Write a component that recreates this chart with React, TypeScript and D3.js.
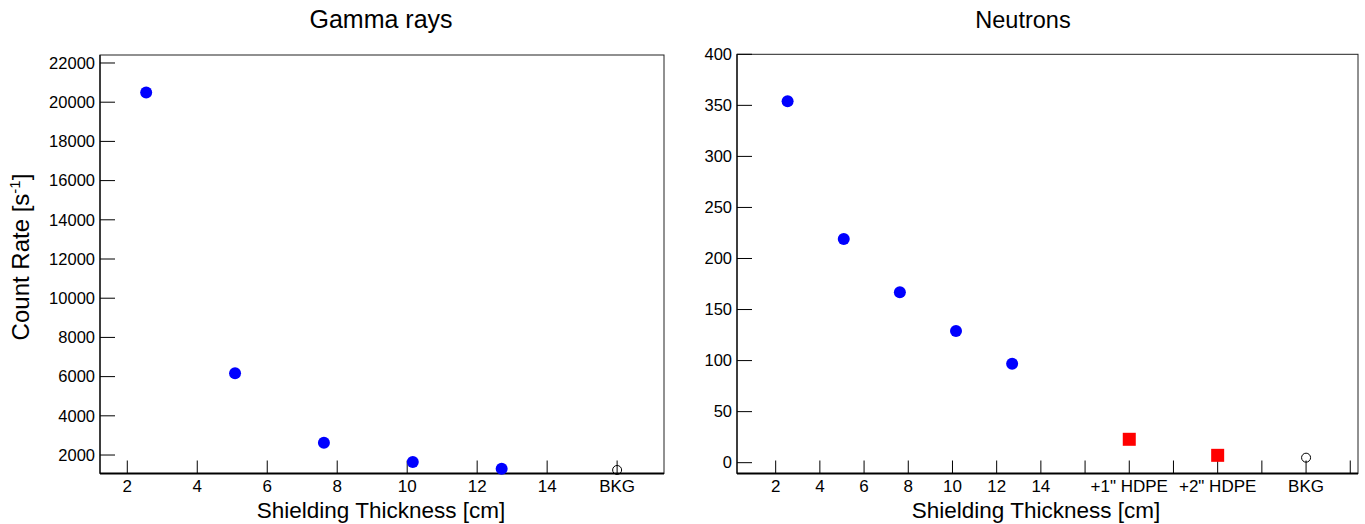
import React from "react";
import * as d3 from "d3";

const thickness = [2.54, 5.08, 7.62, 10.16, 12.7];
const gammaRates = [20490, 6175, 2626, 1644, 1303];
const gammaBkgX = 16;
const gammaBkg = 1237;

const neutronRates = [354, 219, 167, 129, 97];
const hdpeX = [18, 22];
const hdpeRates = [22.9, 7.2];
const neutronBkgX = 26;
const neutronBkg = 4.9;

const gammaYTicks = [2000, 4000, 6000, 8000, 10000, 12000, 14000, 16000, 18000, 20000, 22000];
const gammaXTicks = [2, 4, 6, 8, 10, 12, 14, 16];
const gammaXLabels = ["2", "4", "6", "8", "10", "12", "14", "BKG"];

const neutronYTicks = [0, 50, 100, 150, 200, 250, 300, 350, 400];
const neutronXTicks = [2, 4, 6, 8, 10, 12, 14, 16, 18, 20, 22, 24, 26, 28];
const neutronXLabels = ["2", "4", "6", "8", "10", "12", "14", "", "+1\" HDPE", "", "+2\" HDPE", "", "BKG", ""];

const FONT = "'Liberation Sans', Arial, Helvetica, sans-serif";

type PanelProps = {
  title: string;
  titleX: number;
  x0: number; x1: number; y0: number; y1: number;
  xDomain: [number, number];
  yDomain: [number, number];
  xTicks: number[]; xLabels: string[];
  yTicks: number[];
  titleSize: number;
  xTitleX: number;
  children: (x: d3.ScaleLinear<number, number>, y: d3.ScaleLinear<number, number>) => React.ReactNode;
};

function Panel(p: PanelProps) {
  const x = d3.scaleLinear().domain(p.xDomain).range([p.x0, p.x1]);
  const y = d3.scaleLinear().domain(p.yDomain).range([p.y1, p.y0]);
  return (
    <g>
      <rect x={p.x0} y={p.y0} width={p.x1 - p.x0} height={p.y1 - p.y0} fill="none" stroke="#222" strokeWidth={1} />
      <line x1={p.x0} x2={p.x0} y1={p.y0} y2={p.y1} stroke="#222" strokeWidth={1.5} />
      <line x1={p.x0} x2={p.x1} y1={p.y1} y2={p.y1} stroke="#000" strokeWidth={2} />
      {p.yTicks.map((t) => (
        <g key={"y" + t}>
          <line x1={p.x0} x2={p.x0 + 15} y1={y(t)} y2={y(t)} stroke="#000" strokeWidth={1} />
          <text x={p.x0 - 5} y={y(t)} dy="0.35em" textAnchor="end" fontSize={16.5} fontFamily={FONT} fill="#000">{t}</text>
        </g>
      ))}
      {p.xTicks.filter((t) => x(t) <= p.x1).map((t, i) => (
        <g key={"x" + t}>
          <line x1={x(t)} x2={x(t)} y1={p.y1} y2={p.y1 - 13} stroke="#000" strokeWidth={1} />
          <text x={x(t)} y={p.y1 + 18} textAnchor="middle" fontSize={17} fontFamily={FONT} fill="#000">{p.xLabels[i]}</text>
        </g>
      ))}
      <text x={p.titleX} y={28} textAnchor="middle" fontSize={p.titleSize} fontFamily={FONT} fill="#000">{p.title}</text>
      <text x={p.xTitleX} y={518} textAnchor="middle" fontSize={22.5} fontFamily={FONT} fill="#000">Shielding Thickness [cm]</text>
      {p.children(x, y)}
    </g>
  );
}

export default function App() {
  return (
    <svg width={1365} height={524} style={{ position: "absolute", left: 0, top: 0, background: "#fff" }}>
      <rect x={0} y={0} width={1365} height={524} fill="#fff" />
      <Panel
        title="Gamma rays"
        titleX={381}
        x0={100} x1={664} y0={55} y1={473.5}
        xDomain={[1.22, 17.34]}
        yDomain={[1057, 22408]}
        xTicks={gammaXTicks} xLabels={gammaXLabels}
        yTicks={gammaYTicks}
        titleSize={25}
        xTitleX={381}
      >
        {(x, y) => (
          <g>
            {thickness.map((t, i) => (
              <circle key={i} cx={x(t)} cy={y(gammaRates[i])} r={6} fill="#0000ff" />
            ))}
            <circle cx={x(gammaBkgX)} cy={y(gammaBkg)} r={4.5} fill="none" stroke="#000" strokeWidth={1} />
          </g>
        )}
      </Panel>
      <Panel
        title="Neutrons"
        titleX={1023}
        x0={737} x1={1358} y0={54.3} y1={473.5}
        xDomain={[0.25, 28.35]}
        yDomain={[-10.6, 400]}
        xTicks={neutronXTicks} xLabels={neutronXLabels}
        yTicks={neutronYTicks}
        titleSize={23.5}
        xTitleX={1036}
      >
        {(x, y) => (
          <g>
            {thickness.map((t, i) => (
              <circle key={i} cx={x(t)} cy={y(neutronRates[i])} r={6} fill="#0000ff" />
            ))}
            {hdpeX.map((t, i) => (
              <rect key={"h" + i} x={x(t) - 6.5} y={y(hdpeRates[i]) - 6.5} width={13} height={13} fill="#ff0000" />
            ))}
            <circle cx={x(neutronBkgX)} cy={y(neutronBkg)} r={4.5} fill="none" stroke="#000" strokeWidth={1} />
          </g>
        )}
      </Panel>
      <text transform="translate(29,257) rotate(-90)" textAnchor="middle" fontSize={24} fontFamily={FONT} fill="#000">
        Count Rate [s<tspan dy={-9} fontSize={15}>-1</tspan><tspan dy={9}>]</tspan>
      </text>
    </svg>
  );
}
